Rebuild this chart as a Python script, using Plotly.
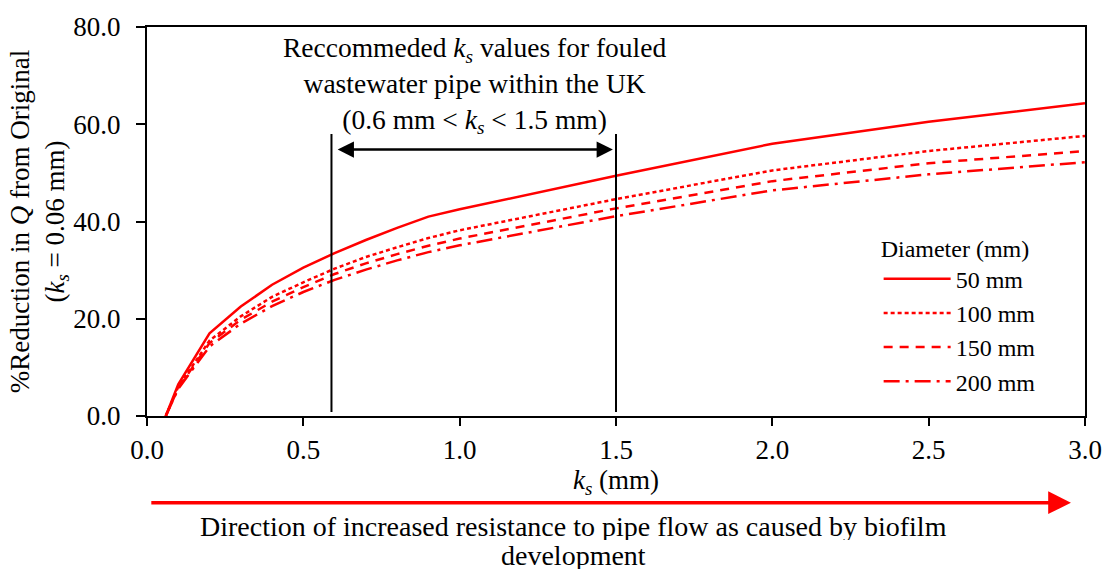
import plotly.graph_objects as go

ks = [0.06, 0.1, 0.2, 0.3, 0.4, 0.5, 0.6, 0.7, 0.8, 0.9, 1.0, 1.5, 2.0, 2.5, 3.0]
red_50 = [0, 6.5, 17.0, 22.5, 27.0, 30.5, 33.5, 36.2, 38.7, 41.0, 42.5, 49.4, 56.0, 60.5, 64.3]
red_100 = [0, 6.0, 15.5, 20.5, 24.5, 27.5, 30.3, 32.7, 34.7, 36.6, 38.2, 44.6, 50.5, 54.5, 57.6]
red_150 = [0, 5.8, 15.0, 19.8, 23.5, 26.5, 29.2, 31.4, 33.3, 35.0, 36.5, 42.7, 48.3, 52.0, 54.5]
red_200 = [0, 5.6, 14.3, 19.0, 22.6, 25.5, 28.0, 30.1, 32.0, 33.7, 35.1, 41.1, 46.4, 49.7, 52.2]
names = ["50 mm", "100 mm", "150 mm", "200 mm"]
dashes = ["solid", "4px,3px", "9px,7px", "16px,6px,3px,6px"]

rec_lo, rec_hi = 0.59, 1.5
FONT = "Liberation Serif"
FS = 27

fig = go.Figure()
for ys, nm, ds in zip([red_50, red_100, red_150, red_200], names, dashes):
    fig.add_trace(go.Scatter(x=ks, y=ys, name=nm, mode="lines",
                             line=dict(color="#ff0000", width=2.5, dash=ds)))

# recommended range vertical lines
for xv in [rec_lo, rec_hi]:
    fig.add_shape(type="line", x0=xv, x1=xv, y0=0.8, y1=58, xref="x", yref="y",
                  line=dict(color="black", width=2))

# double arrow
fig.add_annotation(x=rec_hi - 0.01, y=54.8, ax=rec_lo + 0.015, ay=54.8,
                   xref="x", yref="y", axref="x", ayref="y",
                   showarrow=True, arrowhead=2, startarrowhead=2, arrowside="end+start",
                   arrowsize=1.3, startarrowsize=1.3, arrowwidth=2.5, arrowcolor="black", text="")

fig.add_annotation(x=1.048, y=68.1, xref="x", yref="y", showarrow=False,
                   text="Reccommeded <i>k<sub>s</sub></i> values for fouled<br>wastewater pipe within the UK<br>(0.6 mm &lt; <i>k<sub>s</sub></i> &lt; 1.5 mm)",
                   font=dict(family=FONT, size=27.5, color="black"), align="center",
                   bgcolor="rgba(0,0,0,0)")

# red direction arrow below the axis
fig.add_annotation(x=0.985, y=-0.223, ax=0.003, ay=-0.223,
                   xref="x domain", yref="y domain", axref="x domain", ayref="y domain",
                   showarrow=True, arrowhead=2, arrowsize=1.3, arrowwidth=3.5,
                   arrowcolor="#ff0000", text="")
fig.add_annotation(x=0.455, y=-0.282, xref="x domain", yref="y domain", showarrow=False,
                   yanchor="middle", height=28, valign="middle",
                   text="Direction of increased resistance to pipe flow as caused by biofilm",
                   font=dict(family=FONT, size=28, color="black"), align="center")
fig.add_annotation(x=0.455, y=-0.358, xref="x domain", yref="y domain", showarrow=False,
                   yanchor="middle", height=28, valign="middle", text="development",
                   font=dict(family=FONT, size=28, color="black"), align="center")

fig.update_layout(
    width=1114, height=572,
    margin=dict(l=147, r=27, t=26, b=156),
    paper_bgcolor="white", plot_bgcolor="white",
    font=dict(family=FONT, size=FS, color="black"),
    showlegend=True,
    legend=dict(title=dict(text="Diameter (mm)", font=dict(family=FONT, size=24)),
                x=0.78, xanchor="left", y=0.49, yanchor="top",
                bgcolor="rgba(0,0,0,0)", font=dict(family=FONT, size=24),
                tracegroupgap=0, itemwidth=67),
    xaxis=dict(range=[0, 3.0], dtick=0.5, tick0=0, tickformat=".1f",
               showgrid=False, zeroline=False, showline=True, linecolor="black", linewidth=2,
               mirror=True, ticks="outside", ticklen=8, tickwidth=1.5, tickcolor="black",
               tickfont=dict(family=FONT, size=FS), ticklabelstandoff=1,
               title=dict(text="<i>k<sub>s</sub></i> (mm)", font=dict(family=FONT, size=FS), standoff=0)),
    yaxis=dict(range=[0, 80], dtick=20, tick0=0, tickformat=".1f",
               showgrid=False, zeroline=False, showline=True, linecolor="black", linewidth=2,
               mirror=True, ticks="outside", ticklen=9, tickwidth=1.5, tickcolor="black",
               tickfont=dict(family=FONT, size=FS), ticklabelstandoff=10,
               title=dict(text="%Reduction in <i>Q</i> from Original<br>(<i>k<sub>s</sub></i> = 0.06 mm)",
                          font=dict(family=FONT, size=FS), standoff=0)),
)

fig.write_html("out.html")
